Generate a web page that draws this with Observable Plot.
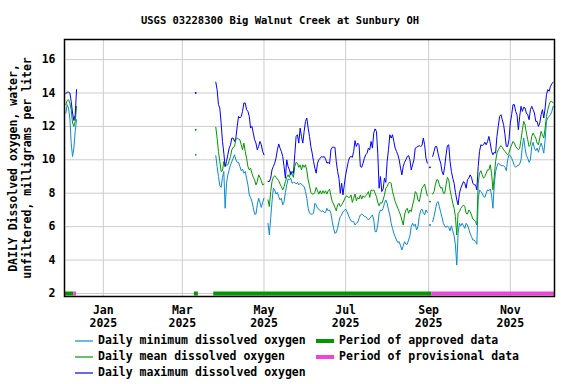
<!DOCTYPE html>
<html>
<head>
<meta charset="utf-8">
<script src="https://cdn.jsdelivr.net/npm/d3@7"></script>
<script src="https://cdn.jsdelivr.net/npm/@observablehq/plot@0.6"></script>
<style>
  html, body { margin: 0; padding: 0; background: #fff; }
  #wrap { position: relative; width: 576px; height: 384px; overflow: hidden;
          font-family: "DejaVu Sans Mono", monospace; font-weight: bold; color: #000; }
  #title { position: absolute; left: 0; top: 14px; width: 560px; text-align: center;
           font-size: 10.5px; line-height: 12px; white-space: nowrap; }
  #chart { position: absolute; left: 0; top: 30px; }
  #legend { position: absolute; left: 0; top: 330px; }
  .lg-text { position: absolute; font-size: 11.5px; line-height: 16px; white-space: nowrap; }
</style>
</head>
<body>
<div id="wrap">
  <div id="title"></div>
  <div id="chart"></div>
  <div id="legend"></div>
</div>
<script>
const titleText = "USGS 03228300 Big Walnut Creek at Sunbury OH";
const yLabel = "DAILY Dissolved oxygen, water,\nunfiltered, milligrams per liter";

// x ticks
const tickDates = ["2025-01-01", "2025-03-01", "2025-05-01", "2025-07-01", "2025-09-01", "2025-11-01"];
const tickMonths = ["Jan", "Mar", "May", "Jul", "Sep", "Nov"];
const tickYears = ["2025", "2025", "2025", "2025", "2025", "2025"];
const yTicks = [2, 4, 6, 8, 10, 12, 14, 16];

// segment start dates (daily values follow)
const decStart = "2024-12-04";
const marStart = "2025-03-11";
const mainStart = "2025-03-26";

const decMax = [13.95, 14.05, 14.05, 14.0, 13.5, 12.8, 12.35, 12.7, 14.2];
const decMean = [13.3, 13.55, 13.6, 13.4, 13.0, 12.2, 12.0, 12.3, 13.2];
const decMin = [12.8, 13.3, 13.1, 12.5, 11.0, 10.2, 10.7, 11.7, 12.4];

const marMax = [14.0];
const marMean = [11.8];
const marMin = [10.3];

const mainMax = [
  14.65, 14.2, 13.3, 13.1, 12.2, 11.1, 10.4, 9.6, 9.9, 10.3,
  10.7, 10.9, 11.3, 11.3, 11.1, 11.3, 12.0, 12.6, 12.5, 12.6,
  12.9, 13.4, 13.4, 13.0, 12.9, 12.6, 11.9, 12.0, 11.6, 11.2,
  11.0, 10.6, 10.8, 11.1, 10.9, 10.5, 10.3, null, null, 8.7,
  8.7, 8.9, 9.4, 9.6, 9.8, 10.1, 10.6, 10.95, 10.7, 10.5,
  10.2, 9.6, 8.9, 10.0, 9.6, 9.4, 9.1, 9.3, 9.2, 10.3,
  11.4, 11.5, 11.0, 11.9, 11.4, 11.0, 11.7, 12.3, 12.5, 11.9,
  11.4, 10.8, 10.4, 9.9, 9.5, 9.2, 9.8, 10.0, 10.1, 10.2,
  10.15, 10.2, 10.05, 9.8, 9.85, 9.75, 10.6, 10.75, 10.75, 10.75,
  9.9, 9.3, 8.9, 8.0, 8.6, 7.9, 8.5, 9.1, 9.5, 9.9,
  10.15, 10.2, 10.15, 10.5, 11.15, 10.8, 11.0, 10.9, 9.6, 9.55,
  9.8, 10.1, 10.3, 10.4, 10.7, 10.6, 11.1, 10.7, 11.6, 11.85,
  11.7, 10.4, 8.3, 9.0, 8.1, 8.25, 8.9, 8.65, 9.9, 10.6,
  11.5, 11.3, 11.5, 11.1, 10.7, 10.5, 10.3, 10.0, 9.5, 9.1,
  9.6, 9.85, 10.0, 10.2, 10.25, 10.0, 9.4, 9.7, 10.0, 10.7,
  10.75, 10.8, 10.85, 10.8, 10.85, 11.3, 10.9, 10.1, 9.8, null,
  9.55, null, 10.2, 10.5, 10.8, 10.8, 10.4, 10.05, 9.8, 9.3,
  9.1, 9.6, 10.3, 10.85, 10.9, 9.9, 9.3, 8.9, 8.6, 8.05,
  7.6, 7.3, 8.0, 8.3, 8.5, 8.7, 8.6, 8.3, 8.8, 8.9,
  9.1, 8.95, 8.6, 8.5, 8.5, 8.2, 9.6, 10.5, 10.9, 10.85,
  10.9, 11.05, 10.9, 11.1, 11.4, 11.0, 10.5, 10.3, 10.45, 10.4,
  11.4, 12.0, 12.6, 12.7, 12.4, 12.1, 11.5, 10.8, 10.8, 11.2,
  12.2, 12.7, 13.3, 13.3, 12.9, 12.7, 11.8, 12.6, 13.2, 12.9,
  13.15, 13.1, 12.8, 12.7, 12.4, 13.0, 13.2, 13.0, 12.8, 12.3,
  12.3, 12.0, 12.2, 12.7, 13.0, 12.5, 13.1, 13.9, 14.2, 14.1,
  14.4, 14.55, 14.65
];

const mainMean = [
  11.95, 11.3, 10.5, 9.9, 9.3, 9.35, 9.9, 9.6, 9.7, 9.7,
  9.95, 10.2, 10.6, 10.75, 10.8, 11.2, 11.3, 11.25, 11.2, 10.9,
  10.6, 11.0, 10.5, 10.1, 9.6, 9.4, 9.5, 9.2, 8.95, 8.8,
  8.5, 8.7, 9.1, 8.95, 8.75, 8.5, 8.55, null, null, 7.6,
  7.2, 8.1, 8.7, 8.95, 9.05, 8.95, 8.85, 8.75, 8.55, 8.4,
  8.2, 8.4, 8.7, 8.95, 9.1, 8.95, 9.3, 9.15, 8.95, 9.6,
  9.85, 9.8, 9.55, 9.7, 9.4, 9.7, 9.55, 9.7, 9.35, 8.8,
  8.45, 8.05, 7.95, 7.95, 8.05, 8.35, 8.15, 7.95, 8.15, 7.95,
  8.15, 8.0, 8.15, 7.95, 8.15, 8.25, 7.85, 7.5, 7.35, 7.15,
  6.95, 7.3, 7.4, 7.2, 7.3, 7.45, 7.6, 7.8, 7.85, 7.75,
  7.75, 7.9, 7.45, 7.7, 7.95, 7.55, 7.75, 7.65, 7.9, 7.65,
  7.85, 7.75, 7.85, 7.95, 8.1, 7.75, 8.2, 8.15, 8.2, 8.0,
  7.8, 7.45, 7.25, 7.45, 7.4, 7.6, 7.9, 8.3, 8.4, 8.6,
  8.65, 8.6, 8.1, 7.8, 7.5, 7.3, 7.1, 6.9, 6.7, 6.4,
  6.1, 6.7, 7.0, 7.1, 6.8, 7.0, 6.9, 7.3, 7.6, 8.1,
  8.0, 7.6, 7.5, 7.9, 8.3, 8.4, 8.55, 8.2, 7.85, null,
  7.5, null, 7.95, 8.1, 8.5, 8.8, 8.8, 8.5, 8.3, 8.35,
  8.0, 8.0, 8.5, 8.95, 8.8, 8.2, 7.8, 7.4, 7.1, 6.6,
  5.5, 6.8, 6.9, 7.1, 7.2, 7.3, 7.2, 6.8, 6.75, 7.0,
  6.9, 6.7, 6.45, 6.4, 6.3, 6.1, 8.6, 9.2, 9.35, 9.1,
  8.9, 9.0, 9.2, 9.4, 9.4, 9.7, 9.2, 8.2, 9.0, 9.9,
  10.4, 10.6, 10.75, 10.85, 10.75, 10.6, 10.5, 10.4, 10.3, 10.4,
  10.7, 10.9, 11.1, 11.0, 10.8, 10.7, 10.6, 10.7, 11.2, 11.8,
  12.3, 12.1, 11.6, 11.2, 10.8, 10.9, 11.4, 11.6, 11.45, 11.3,
  11.0, 10.9, 11.3, 11.7, 11.5, 11.3, 11.9, 12.6, 13.0, 13.3,
  13.5, 13.5, 13.4
];

const mainMin = [
  10.25, 9.6, 9.0, 8.45, 8.35, 8.95, 9.3, 7.1, 8.6, 9.1,
  9.4, 9.7, 9.9, 10.1, 10.3, 10.0, 9.85, 9.85, 9.6, 9.35,
  9.45, 9.2, 9.3, 8.9, 8.5, 7.9, 7.75, 7.5, 7.15, 6.75,
  6.75, 7.3, 7.7, 7.45, 7.15, 7.45, 7.7, null, null, 6.2,
  5.5, 6.5, 7.5, 8.3, 8.2, 7.95, 8.05, 7.8, 7.6, 7.7,
  7.3, 7.5, 8.05, 8.5, 8.85, 8.8, 8.9, 8.6, 8.65, 8.65,
  8.55, 8.65, 8.5, 8.6, 8.55, 8.45, 8.4, 8.1, 7.7, 7.1,
  6.8, 6.75, 6.75, 6.8, 7.4, 7.3, 7.1, 7.05, 6.95, 6.9,
  6.95, 6.85, 6.85, 7.1, 6.95, 7.0, 6.8, 6.3, 5.9, 5.6,
  5.65, 5.9, 6.3, 6.6, 6.7, 6.9, 6.95, 7.05, 6.9, 6.7,
  6.5, 6.35, 6.3, 6.3, 6.1, 6.2, 6.25, 6.5, 6.7, 6.75,
  6.7, 6.6, 6.6, 6.5, 6.4, 6.5, 6.6, 6.7, 6.4, 5.7,
  5.7, 6.1, 6.8, 7.0, 6.95, 7.1, 7.4, 7.6, 7.4, 7.0,
  6.7, 6.2, 5.9, 5.6, 5.4, 5.2, 5.05, 5.1, 4.85, 4.6,
  4.85, 5.1, 4.95, 4.95, 5.2, 5.45, 6.0, 6.2, 6.05, 6.15,
  5.8, 6.0, 6.6, 6.95, 7.05, 6.85, 6.7, 7.0, 6.85, null,
  6.1, null, 6.3, 6.6, 7.0, 7.4, 7.5, 7.2, 6.85, 6.55,
  6.2, 6.05, 5.95, 6.05, 5.95, 5.75, 6.05, 5.75, 5.45, 4.9,
  3.7, 5.6, 6.2, 6.05, 6.2, 6.05, 5.9, 6.2, 6.1, 5.85,
  5.6, 5.4, 5.2, 5.2, 5.1, 4.95, 7.6, 8.2, 8.1, 8.0,
  7.8, 7.75, 8.0, 8.2, 8.15, 8.25, 7.9, 7.1, 8.5, 9.3,
  9.6, 9.8, 9.75, 9.65, 9.65, 9.65, 9.55, 9.35, 10.0, 10.3,
  10.25, 10.1, 9.9, 9.65, 9.55, 9.65, 9.65, 9.75, 10.0, 10.8,
  11.3, 10.7, 10.25, 10.1, 9.85, 10.0, 10.8, 11.05, 10.7, 10.55,
  10.7, 10.45, 10.75, 11.0, 10.75, 10.4, 11.2, 12.3, 12.5, 12.6,
  12.7, 12.9, 13.2
];

// data-quality periods
const periodStart = ["2024-12-03", "2024-12-10", "2025-03-10", "2025-03-24T12:00Z", "2025-09-03T08:00Z"];
const periodEnd   = ["2024-12-10", "2024-12-12", "2025-03-13", "2025-09-03T08:00Z", "2025-12-04"];
const periodType  = ["approved", "provisional", "approved", "approved", "provisional"];
const periodLevel = 2;

const xDomain = ["2024-12-03", "2025-12-04"];
const yDomain = [1.82, 17.2];

const colMin = "#0b8ad2", colMean = "#009900", colMax = "#0000ff";
const colApproved = "#009900", colProvisional = "#ee44dd";

const DAY = 864e5;
function build(segs) {
  const out = [];
  segs.forEach(([start, vals], k) => {
    if (k) out.push({date: null, value: null});
    const t0 = Date.parse(start);
    vals.forEach((v, i) => out.push({date: new Date(t0 + i * DAY), value: v}));
  });
  return out;
}
function isolated(recs) {
  return recs.filter((r, i) => r.value != null &&
    (i === 0 || recs[i - 1].value == null) &&
    (i === recs.length - 1 || recs[i + 1].value == null));
}

const recMax = build([[decStart, decMax], [marStart, marMax], [mainStart, mainMax]]);
const recMean = build([[decStart, decMean], [marStart, marMean], [mainStart, mainMean]]);
const recMin = build([[decStart, decMin], [marStart, marMin], [mainStart, mainMin]]);

const periods = periodStart.map((s, i) => ({
  start: new Date(s), end: new Date(periodEnd[i]), type: periodType[i], level: periodLevel
}));

const tickDateObjs = tickDates.map(d => new Date(d));
const tickLabel = new Map(tickDates.map((d, i) => [+new Date(d), tickMonths[i] + "\n" + tickYears[i]]));

document.getElementById("title").textContent = titleText;

const plot = Plot.plot({
  width: 576,
  height: 302,
  marginLeft: 64,
  marginRight: 22,
  marginTop: 9,
  marginBottom: 36,
  style: {fontFamily: "DejaVu Sans Mono", fontSize: "11.5px", fontWeight: "bold", color: "#000", background: "transparent", overflow: "visible"},
  x: {type: "utc", domain: xDomain.map(d => new Date(d))},
  y: {domain: yDomain},
  marks: [
    Plot.gridY(yTicks, {stroke: "#cccccc", strokeOpacity: 1, strokeWidth: 1}),
    Plot.gridX(tickDateObjs, {stroke: "#cccccc", strokeOpacity: 1, strokeWidth: 1}),
    Plot.axisY(yTicks, {tickSize: 0, tickPadding: 9, label: null, fontWeight: "bold"}),
    Plot.axisX(tickDateObjs, {tickSize: 0, tickPadding: 8, label: null, lineHeight: 1.12,
      tickFormat: d => tickLabel.get(+d), fontWeight: "bold"}),
    Plot.ruleY(periods, {y: "level", x1: "start", x2: "end",
      stroke: d => d.type === "approved" ? colApproved : colProvisional, strokeWidth: 4, strokeLinecap: "butt"}),
    Plot.line(recMin, {x: "date", y: "value", stroke: colMin, strokeWidth: 1}),
    Plot.line(recMean, {x: "date", y: "value", stroke: colMean, strokeWidth: 1}),
    Plot.line(recMax, {x: "date", y: "value", stroke: colMax, strokeWidth: 1}),
    Plot.dot(isolated(recMin), {x: "date", y: "value", r: 0.9, fill: colMin}),
    Plot.dot(isolated(recMean), {x: "date", y: "value", r: 0.9, fill: colMean}),
    Plot.dot(isolated(recMax), {x: "date", y: "value", r: 0.9, fill: colMax}),
    Plot.frame({stroke: "#000", strokeWidth: 1.5}),
    Plot.text([yLabel], {frameAnchor: "left", textAnchor: "middle", lineAnchor: "middle", rotate: -90, dx: -45, text: d => d,
      lineHeight: 1.24, fontWeight: "bold", fontSize: 11.5, fill: "#000"})
  ]
});
document.getElementById("chart").appendChild(plot);

// legend (swatches drawn in a small svg, labels as text)
const legendItems = [
  {label: "Daily minimum dissolved oxygen", color: colMin, thick: 1.2, col: 0, row: 0},
  {label: "Daily mean dissolved oxygen", color: colMean, thick: 1.2, col: 0, row: 1},
  {label: "Daily maximum dissolved oxygen", color: colMax, thick: 1.2, col: 0, row: 2},
  {label: "Period of approved data", color: colApproved, thick: 4, col: 1, row: 0},
  {label: "Period of provisional data", color: colProvisional, thick: 4, col: 1, row: 1}
];
const colX = [75, 316];
const legend = document.getElementById("legend");
const NS = "http://www.w3.org/2000/svg";
const lsvg = document.createElementNS(NS, "svg");
lsvg.setAttribute("width", 576);
lsvg.setAttribute("height", 54);
lsvg.style.position = "absolute";
lsvg.style.left = "0px";
lsvg.style.top = "0px";
legend.appendChild(lsvg);
legendItems.forEach(it => {
  const cy = 11 + it.row * 16;
  const ln = document.createElementNS(NS, "line");
  ln.setAttribute("x1", colX[it.col]);
  ln.setAttribute("x2", colX[it.col] + 18);
  ln.setAttribute("y1", cy);
  ln.setAttribute("y2", cy);
  ln.setAttribute("stroke", it.color);
  ln.setAttribute("stroke-width", it.thick);
  lsvg.appendChild(ln);
  const tx = document.createElement("div");
  tx.className = "lg-text";
  tx.style.left = (colX[it.col] + 23) + "px";
  tx.style.top = (cy - 9) + "px";
  tx.textContent = it.label;
  legend.appendChild(tx);
});
</script>
</body>
</html>
